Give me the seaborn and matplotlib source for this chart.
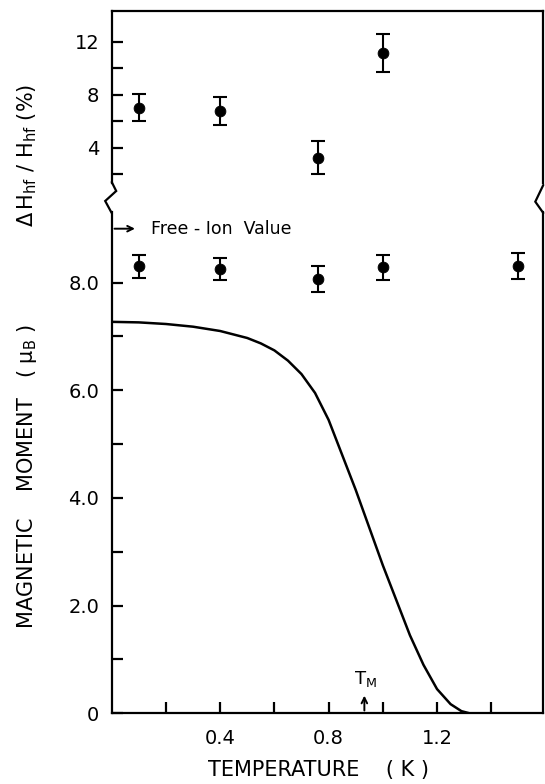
import numpy as np
import pandas as pd
import matplotlib
matplotlib.use("Agg")
import matplotlib.pyplot as plt
import seaborn as sns
from matplotlib.lines import Line2D
from matplotlib.transforms import IdentityTransform

# hyperfine field spread (top panel)
temp_hf = [0.10, 0.40, 0.76, 1.00]
dh_hf = [7.03, 6.75, 3.24, 11.15]
dh_err = [1.03, 1.07, 1.24, 1.43]

# measured moment (bottom panel)
temp_mom = [0.10, 0.40, 0.76, 1.00, 1.50]
moment = [8.30, 8.25, 8.07, 8.28, 8.30]
moment_err = [0.22, 0.20, 0.24, 0.23, 0.24]

# calculated curve
curve_t = [0.0, 0.1, 0.2, 0.3, 0.4, 0.5, 0.55, 0.6, 0.65, 0.7, 0.75, 0.8,
           0.85, 0.9, 0.95, 1.0, 1.05, 1.1, 1.15, 1.2, 1.25, 1.29, 1.32]
curve_m = [7.27, 7.26, 7.23, 7.18, 7.10, 6.97, 6.87, 6.74, 6.55, 6.30, 5.95, 5.45,
           4.80, 4.15, 3.45, 2.75, 2.10, 1.45, 0.90, 0.45, 0.17, 0.04, 0.0]

free_ion = 9.0
t_m = 0.932

sns.set_style("ticks")
plt.rcParams['font.family'] = ['DejaVu Sans']
plt.rcParams['mathtext.default'] = 'regular'
for key in ('text.color', 'axes.labelcolor', 'xtick.color', 'ytick.color'):
    plt.rcParams[key] = 'black'

W, H = 545, 784
fig = plt.figure(figsize=(W / 100, H / 100), dpi=100)

x_left, x_right = 111.7, 543.3
ax_top = fig.add_axes([x_left / W, 1 - 183 / H, (x_right - x_left) / W, (183 - 10.7) / H])
ax_bot = fig.add_axes([x_left / W, 1 - 713.3 / H, (x_right - x_left) / W, (713.3 - 212) / H])

lw = 1.6
for ax in (ax_top, ax_bot):
    ax.set_facecolor('white')
    ax.set_xlim(0, 1.592)
    for s in ax.spines.values():
        s.set_linewidth(lw)
        s.set_color('black')
    ax.tick_params(direction='in', length=8, width=lw, labelsize=14, pad=9,
                   right=False, top=False, colors='black')

# top panel
ax_top.spines['bottom'].set_visible(False)
ax_top.set_ylim(1.34, 14.34)
ax_top.set_yticks([2, 4, 6, 8, 10, 12])
ax_top.set_yticklabels(['', '4', '', '8', '', '12'])
ax_top.set_xticks([])
ax_top.errorbar(temp_hf, dh_hf, yerr=dh_err, fmt='none', ecolor='black',
                elinewidth=1.5, capsize=5, capthick=1.5)
sns.scatterplot(x=temp_hf, y=dh_hf, ax=ax_top, color='black', s=60, edgecolor='black', zorder=3)

# bottom panel
ax_bot.spines['top'].set_visible(False)
ax_bot.set_ylim(0, 9.31)
ax_bot.set_yticks(range(0, 9))
ax_bot.set_yticklabels(['0', '', '2.0', '', '4.0', '', '6.0', '', '8.0'])
ax_bot.set_xticks([0.2, 0.4, 0.6, 0.8, 1.0, 1.2, 1.4])
ax_bot.set_xticklabels(['', '0.4', '', '0.8', '', '1.2', ''])
ax_bot.tick_params(axis='x', pad=11)
ax_bot.errorbar(temp_mom, moment, yerr=moment_err, fmt='none', ecolor='black',
                elinewidth=1.5, capsize=5, capthick=1.5)
sns.scatterplot(x=temp_mom, y=moment, ax=ax_bot, color='black', s=60, edgecolor='black', zorder=3)

curve = pd.DataFrame({'t': curve_t, 'm': curve_m})
sns.lineplot(data=curve, x='t', y='m', ax=ax_bot, color='black', linewidth=1.8, sort=False)
ax_bot.set_xlabel('')
ax_bot.set_ylabel('')

ax_bot.annotate('', xy=(0.096, free_ion), xytext=(0, free_ion),
                arrowprops=dict(arrowstyle='->', color='black', lw=1.4), annotation_clip=False)
ax_bot.text(0.145, free_ion, 'Free - Ion  Value', fontsize=12.5, va='center', ha='left')

ax_bot.annotate('', xy=(t_m, 0.38), xytext=(t_m, 0.0),
                arrowprops=dict(arrowstyle='->', color='black', lw=1.4))
ax_bot.text(t_m + 0.005, 0.45, r'$T_M$', fontsize=13, ha='center', va='bottom')

# axis break marks
def px_line(xs, ys):
    fig.add_artist(Line2D(xs, [H - y for y in ys], transform=IdentityTransform(),
                          color='black', linewidth=lw, solid_joinstyle='miter'))

px_line([x_left, x_left + 4.5, x_left - 6.5, x_left], [182, 191, 201, 213])
px_line([x_right, x_right - 8, x_right], [185, 201.7, 213])

# axis labels
fig.text(27 / W, 1 - 155 / H, r'$\Delta\,H_{hf}\ /\ H_{hf}\ (\%)$', rotation=90,
         fontsize=15, ha='center', va='center')
fig.text(27 / W, 1 - 476 / H, r'MAGNETIC    MOMENT   ( $\mu_B$ )', rotation=90,
         fontsize=15, ha='center', va='center')
fig.text(319 / W, 1 - 770 / H, 'TEMPERATURE    ( K )', fontsize=15, ha='center', va='center')

fig.savefig('out.png', dpi=100, facecolor='white')
